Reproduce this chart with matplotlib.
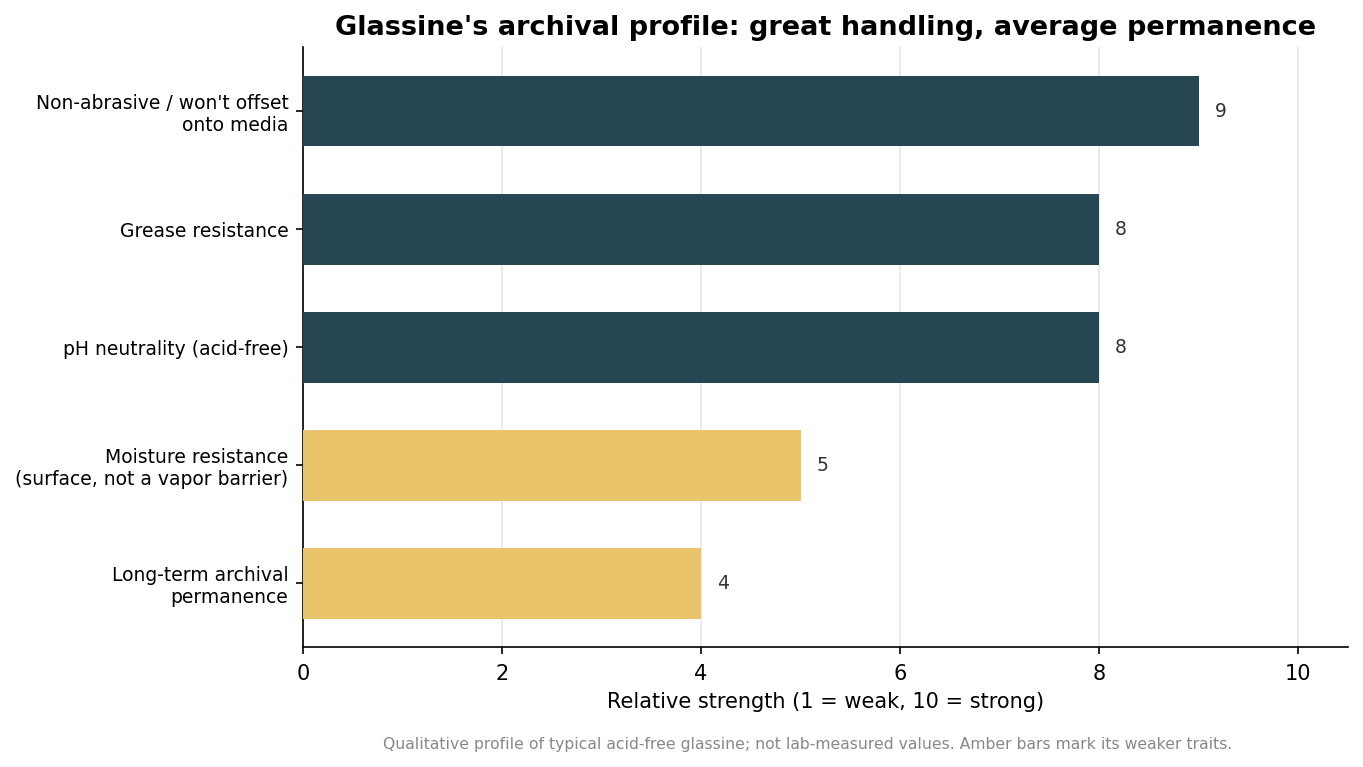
import matplotlib
matplotlib.use('Agg')
import matplotlib.pyplot as plt

# data (bottom to top)
traits = ["Long-term archival\npermanence",
          "Moisture resistance\n(surface, not a vapor barrier)",
          "pH neutrality (acid-free)",
          "Grease resistance",
          "Non-abrasive / won't offset\nonto media"]
scores = [4, 5, 8, 8, 9]
weak = [True, True, False, False, False]

dark = '#264653'
amber = '#E9C46A'
colors = [amber if w else dark for w in weak]

W, H = 1363, 767
fig = plt.figure(figsize=(W/150, H/150), dpi=150)
ax = fig.add_axes([303/W, 1-647/H, (1348-303)/W, (647-47)/H])

ypos = range(len(traits))
ax.barh(ypos, scores, height=0.6, color=colors, zorder=3)
for y, s in zip(ypos, scores):
    ax.text(s + 0.16, y, str(s), va='center', ha='left', fontsize=9, color='#333333')

ax.set_yticks(list(ypos))
ax.set_yticklabels(traits, fontsize=9)
ax.set_xlim(0, 10.5)
ax.set_ylim(-0.538, 4.542)
ax.set_xticks([0, 2, 4, 6, 8, 10])
ax.tick_params(axis='x', labelsize=10, pad=4.5)
ax.set_xlabel("Relative strength (1 = weak, 10 = strong)", fontsize=10)
ax.grid(axis='x', color='#e8e8e8', linewidth=0.8, zorder=0)
ax.spines['top'].set_visible(False)
ax.spines['right'].set_visible(False)
ax.set_title("Glassine's archival profile: great handling, average permanence",
             fontsize=13, fontweight='bold', pad=6)

fig.text(808/W, 1-744/H,
         "Qualitative profile of typical acid-free glassine; not lab-measured values. Amber bars mark its weaker traits.",
         ha='center', va='center', fontsize=7.5, color='#888888')

fig.savefig('out.png', dpi=150)
plt.close(fig)
